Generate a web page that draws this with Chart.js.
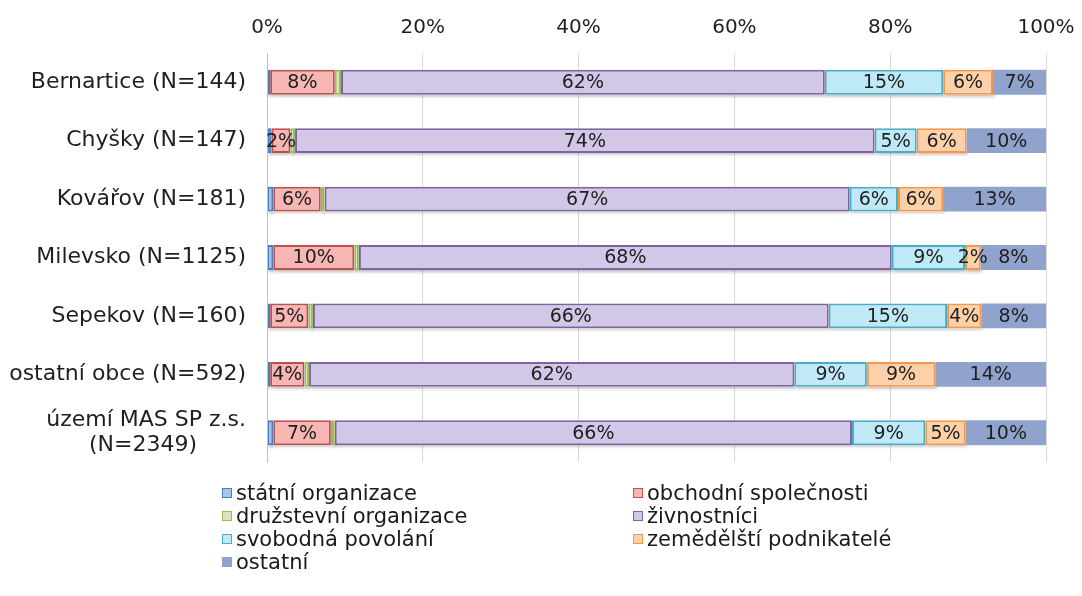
<!DOCTYPE html>
<html>
<head>
<meta charset="utf-8">
<script src="https://cdn.jsdelivr.net/npm/chart.js@4/dist/chart.umd.min.js"></script>
<style>
  html, body { margin: 0; padding: 0; background: #ffffff; }
  #wrap { position: relative; width: 1082px; height: 596px; }
  #chart { position: absolute; left: 0; top: 0; }
  #legend {
    position: absolute; left: 222px; top: 481px; width: 840px;
    font-family: "DejaVu Sans", Verdana, sans-serif; font-size: 21px; color: #1a1a1a;
    display: grid; grid-template-columns: 411px 429px;
  }
  .item { display: flex; align-items: center; height: 23px; white-space: nowrap; }
  .box { width: 8px; height: 8px; margin-right: 4px; border: 1.5px solid; flex: none; }
</style>
</head>
<body>
<div id="wrap">
  <canvas id="chart" width="1082" height="596"></canvas>
  <div id="legend"></div>
</div>
<script>
// Municipalities (with number of economic subjects)
const categories = [
  'Bernartice (N=144)',
  'Chyšky (N=147)',
  'Kovářov (N=181)',
  'Milevsko (N=1125)',
  'Sepekov (N=160)',
  'ostatní obce (N=592)',
  ['území MAS SP z.s.', '(N=2349)']
];

// Share of subjects by legal form, in percent
const statniOrganizace     = [0.4, 0.6, 0.8, 0.8, 0.4, 0.4, 0.8];
const obchodniSpolecnosti  = [8.3, 2.4, 6.1, 10.4, 4.9, 4.4, 7.4];
const druzstevniOrganizace = [0.8, 0.6, 0.5, 0.6, 0.6, 0.6, 0.5];
const zivnostnici          = [62.1, 74.4, 67.4, 68.4, 66.2, 62.3, 66.4];
const svobodnaPovolani     = [15.2, 5.4, 6.2, 9.4, 15.2, 9.3, 9.4];
const zemedelstiPodnik     = [6.4, 6.4, 5.8, 2.0, 4.4, 8.8, 5.2];
const ostatni              = [6.8, 10.2, 13.2, 8.4, 8.3, 14.2, 10.3];

const seriesNames = [
  'státní organizace', 'obchodní společnosti', 'družstevní organizace',
  'živnostníci', 'svobodná povolání', 'zemědělští podnikatelé', 'ostatní'
];
const xTicks = [0, 20, 40, 60, 80, 100];

const FONT = '"DejaVu Sans", Verdana, sans-serif';
const TEXT = '#1f1f1f';

const styles = [
  { fill: '#a8c6ec', border: '#4a7ebb', label: false },
  { fill: '#f6b6b4', border: '#c0504d', label: true },
  { fill: '#d8e7bb', border: '#9bbb59', label: false },
  { fill: '#d2c7e6', border: '#7f63a1', label: true },
  { fill: '#bfe9f6', border: '#4bacc6', label: true },
  { fill: '#fcd1aa', border: '#f79646', label: true },
  { fill: '#8fa3cd', border: '#8fa3cd', label: true }
];
const values = [statniOrganizace, obchodniSpolecnosti, druzstevniOrganizace,
  zivnostnici, svobodnaPovolani, zemedelstiPodnik, ostatni];

const datasets = values.map((v, i) => ({
  label: seriesNames[i],
  data: v,
  backgroundColor: styles[i].fill,
  borderColor: styles[i].border,
  borderWidth: i === 6 ? 0 : 2,
  borderSkipped: false,
  barPercentage: 0.85,
  categoryPercentage: 0.5,
  showValue: styles[i].label
}));

// Soft drop shadow under the segments (ostatní is flat, no shadow)
const barShadow = {
  id: 'barShadow',
  beforeDatasetsDraw(chart) {
    const ctx = chart.ctx;
    ctx.save();
    ctx.shadowColor = 'rgba(0,0,0,0.28)';
    ctx.shadowBlur = 3;
    ctx.shadowOffsetX = 1.5;
    ctx.shadowOffsetY = 2;
    ctx.fillStyle = '#ffffff';
    chart.data.datasets.forEach((ds, di) => {
      if (di === 6) return;
      chart.getDatasetMeta(di).data.forEach(bar => {
        const p = bar.getProps(['x', 'y', 'base', 'height'], true);
        const left = Math.min(p.x, p.base), w = Math.abs(p.x - p.base);
        ctx.fillRect(left, p.y - p.height / 2, w, p.height);
      });
    });
    ctx.restore();
  }
};

// Percent labels centred inside each segment
const valueLabels = {
  id: 'valueLabels',
  afterDatasetsDraw(chart) {
    const ctx = chart.ctx;
    ctx.save();
    ctx.font = '19px ' + FONT;
    ctx.fillStyle = TEXT;
    ctx.textAlign = 'center';
    ctx.textBaseline = 'middle';
    chart.data.datasets.forEach((ds, di) => {
      if (!ds.showValue) return;
      const meta = chart.getDatasetMeta(di);
      meta.data.forEach((bar, j) => {
        const p = bar.getCenterPoint();
        ctx.fillText(Math.round(ds.data[j]) + '%', p.x, p.y + 1);
      });
    });
    ctx.restore();
  }
};

// Centre the lines of a multi-line category label against each other
const measure = document.createElement('canvas').getContext('2d');
measure.font = '22px ' + FONT;
function centreLines(label) {
  if (!Array.isArray(label)) return label;
  const widths = label.map(s => measure.measureText(s).width);
  const maxW = Math.max(...widths);
  const sp = measure.measureText('\u00a0').width;
  return label.map((s, k) => s + '\u00a0'.repeat(Math.round((maxW - widths[k]) / 2 / sp)));
}

new Chart(document.getElementById('chart'), {
  type: 'bar',
  data: { labels: categories, datasets },
  options: {
    indexAxis: 'y',
    responsive: false,
    animation: false,
    layout: { padding: { left: 0, right: 36, top: 0, bottom: 134 } },
    plugins: { legend: { display: false }, tooltip: { enabled: false } },
    scales: {
      x: {
        position: 'top',
        stacked: true,
        min: 0, max: 100,
        afterBuildTicks(scale) { scale.ticks = xTicks.map(v => ({ value: v })); },
        afterFit(scale) {
          scale.height = 53;
          scale.paddingLeft = 0;
          scale.paddingRight = 0;
        },
        ticks: {
          callback: v => v + '%',
          font: { family: FONT, size: 20 },
          color: TEXT,
          padding: 13,
          maxRotation: 0
        },
        grid: { color: '#d9d9d9', lineWidth: 1, drawTicks: false },
        border: { display: false }
      },
      y: {
        stacked: true,
        afterFit(scale) { scale.width = 267; },
        ticks: {
          callback(value) { return centreLines(this.getLabelForValue(value)); },
          font: { family: FONT, size: 22, lineHeight: 1.18 },
          color: TEXT,
          padding: 21
        },
        grid: { display: false, drawTicks: false },
        border: { display: true, color: '#bfbfbf', width: 1 }
      }
    }
  },
  plugins: [barShadow, valueLabels]
});

// Two-column legend below the plot
const legend = document.getElementById('legend');
seriesNames.forEach((name, i) => {
  const item = document.createElement('div');
  item.className = 'item';
  const box = document.createElement('span');
  box.className = 'box';
  box.style.background = styles[i].fill;
  box.style.borderColor = styles[i].border;
  const txt = document.createElement('span');
  txt.textContent = name;
  item.appendChild(box);
  item.appendChild(txt);
  legend.appendChild(item);
});
</script>
</body>
</html>
